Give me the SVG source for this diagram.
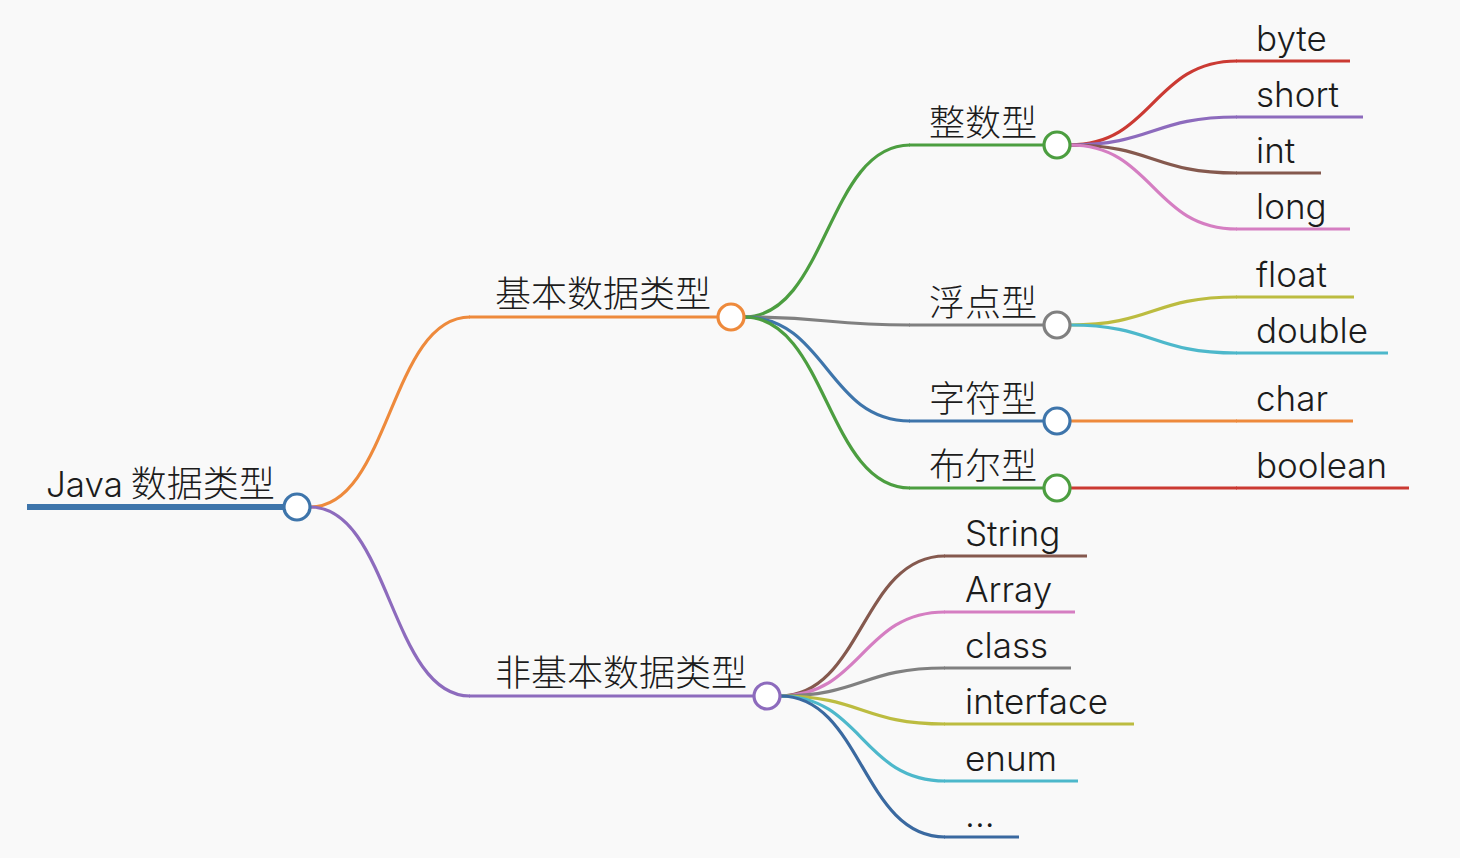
<svg xmlns="http://www.w3.org/2000/svg" width="1460" height="858" viewBox="0 0 1460 858">
<style>
text{font-family:"Inter","Noto Sans CJK SC",sans-serif;font-size:35px;font-weight:300;fill:#1c1c1c}
.cjk{font-family:"Noto Sans CJK SC",sans-serif;font-size:36px}
.l{fill:none;stroke-width:3.2;stroke-linecap:butt}
.c{fill:#fff;stroke-width:3.2}
.blue{stroke:#3e75ab}.orange{stroke:#ee8a3c}.purple{stroke:#8d6bbd}.green{stroke:#4c9e40}
.gray{stroke:#808080}.red{stroke:#cb3a33}.brown{stroke:#85594e}.pink{stroke:#d57ec2}
.olive{stroke:#bcbc40}.cyan{stroke:#4db8cb}.dblue{stroke:#3a69a0}
</style>
<rect width="1460" height="858" fill="#f9f9f9"/>
<g id="connectors">
<path class="l orange" d="M310,507 C390,507 390,317 470,317"/>
<path class="l purple" d="M310,507 C390,507 390,696 470,696"/>
<path class="l green" d="M744,317 C827,317 827,145 910,145"/>
<path class="l gray" d="M744,317 C827,317 827,325 910,325"/>
<path class="l blue" d="M744,317 C827,317 827,421 910,421"/>
<path class="l green" d="M744,317 C827,317 827,488 910,488"/>
<path class="l red" d="M1070,145 C1153,145 1153,61 1237,61"/>
<path class="l purple" d="M1070,145 C1153,145 1153,117 1237,117"/>
<path class="l brown" d="M1070,145 C1153,145 1153,173 1237,173"/>
<path class="l pink" d="M1070,145 C1153,145 1153,229 1237,229"/>
<path class="l olive" d="M1070,325 C1153,325 1153,297 1237,297"/>
<path class="l cyan" d="M1070,325 C1153,325 1153,353 1237,353"/>
<path class="l orange" d="M1070,421 L1237,421"/>
<path class="l red" d="M1070,488 L1237,488"/>
<path class="l brown" d="M780,696 C862,696 862,556 945,556"/>
<path class="l pink" d="M780,696 C862,696 862,612 945,612"/>
<path class="l gray" d="M780,696 C862,696 862,668 945,668"/>
<path class="l olive" d="M780,696 C862,696 862,724 945,724"/>
<path class="l cyan" d="M780,696 C862,696 862,781 945,781"/>
<path class="l dblue" d="M780,696 C862,696 862,837 945,837"/>
</g>
<g id="root">
<line class="l blue" x1="27" y1="507" x2="284" y2="507" style="stroke-width:6"/>
<text x="46" y="497">Java<tspan class="cjk"> 数据类型</tspan></text>
<circle class="c blue" cx="297" cy="507" r="13"/>
</g>
<g id="basic">
<line class="l orange" x1="469" y1="317" x2="718" y2="317"/>
<text class="cjk" x="495" y="307">基本数据类型</text>
<circle class="c orange" cx="731" cy="317" r="13"/>
</g>
<g id="nonbasic">
<line class="l purple" x1="469" y1="696" x2="754" y2="696"/>
<text class="cjk" x="495" y="686">非基本数据类型</text>
<circle class="c purple" cx="767" cy="696" r="13"/>
</g>
<g id="integer">
<line class="l green" x1="909" y1="145" x2="1044" y2="145"/>
<text class="cjk" x="929" y="136">整数型</text>
<circle class="c green" cx="1057" cy="145" r="13"/>
</g>
<g id="floating">
<line class="l gray" x1="909" y1="325" x2="1044" y2="325"/>
<text class="cjk" x="929" y="316">浮点型</text>
<circle class="c gray" cx="1057" cy="325" r="13"/>
</g>
<g id="character">
<line class="l blue" x1="909" y1="421" x2="1044" y2="421"/>
<text class="cjk" x="929" y="412">字符型</text>
<circle class="c blue" cx="1057" cy="421" r="13"/>
</g>
<g id="bool">
<line class="l green" x1="909" y1="488" x2="1044" y2="488"/>
<text class="cjk" x="929" y="479">布尔型</text>
<circle class="c green" cx="1057" cy="488" r="13"/>
</g>
<g id="byte"><line class="l red" x1="1236" y1="61" x2="1350" y2="61"/><text x="1256" y="51">byte</text></g>
<g id="short"><line class="l purple" x1="1236" y1="117" x2="1363" y2="117"/><text x="1256" y="107">short</text></g>
<g id="int"><line class="l brown" x1="1236" y1="173" x2="1321" y2="173"/><text x="1256" y="163">int</text></g>
<g id="long"><line class="l pink" x1="1236" y1="229" x2="1350" y2="229"/><text x="1256" y="219">long</text></g>
<g id="float"><line class="l olive" x1="1236" y1="297" x2="1354" y2="297"/><text x="1256" y="287">float</text></g>
<g id="double"><line class="l cyan" x1="1236" y1="353" x2="1388" y2="353"/><text x="1256" y="343">double</text></g>
<g id="char"><line class="l orange" x1="1236" y1="421" x2="1353" y2="421"/><text x="1256" y="411">char</text></g>
<g id="boolean"><line class="l red" x1="1236" y1="488" x2="1409" y2="488"/><text x="1256" y="478">boolean</text></g>
<g id="string"><line class="l brown" x1="944" y1="556" x2="1087" y2="556"/><text x="965" y="546">String</text></g>
<g id="array"><line class="l pink" x1="944" y1="612" x2="1075" y2="612"/><text x="965" y="602">Array</text></g>
<g id="class"><line class="l gray" x1="944" y1="668" x2="1071" y2="668"/><text x="965" y="658">class</text></g>
<g id="interface"><line class="l olive" x1="944" y1="724" x2="1134" y2="724"/><text x="965" y="714">interface</text></g>
<g id="enum"><line class="l cyan" x1="944" y1="781" x2="1078" y2="781"/><text x="965" y="771">enum</text></g>
<g id="etc"><line class="l dblue" x1="944" y1="837" x2="1019" y2="837"/><text x="965" y="827">...</text></g>
</svg>
